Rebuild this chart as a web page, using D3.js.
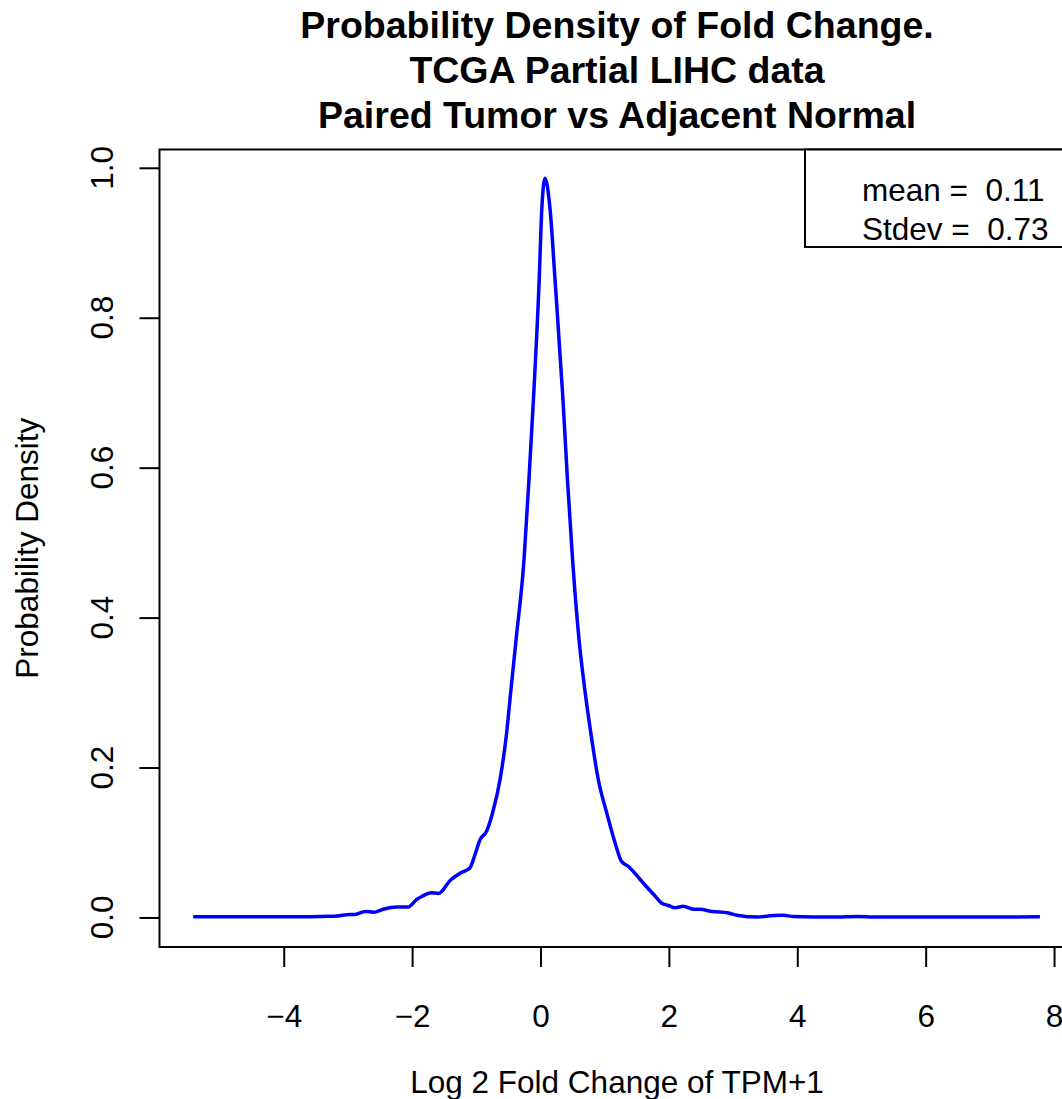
<!DOCTYPE html>
<html>
<head>
<meta charset="utf-8">
<script src="https://cdn.jsdelivr.net/npm/d3@7"></script>
<style>
  body { margin: 0; background: #fff; }
  svg { display: block; font-family: "Liberation Sans", Arial, sans-serif; }
</style>
</head>
<body>
<div id="chart"></div>
<script>
// density curve
var foldChange = [-5.41, -5.0, -4.5, -4.0, -3.6, -3.3, -3.17, -2.97, -2.89, -2.73, -2.60, -2.45, -2.24, -2.06,
  -1.93, -1.85, -1.70, -1.59, -1.40, -1.23, -1.10, -1.02, -0.94, -0.84, -0.745, -0.63, -0.54, -0.46,
  -0.38, -0.257, -0.18, -0.11, -0.02, 0.02, 0.07, 0.15, 0.226, 0.35, 0.42, 0.50, 0.60, 0.69, 0.80,
  0.90, 1.03, 1.16, 1.26, 1.37, 1.54, 1.62, 1.76, 1.89, 1.99, 2.10, 2.22, 2.38, 2.48, 2.67, 2.93,
  3.06, 3.39, 3.63, 3.78, 3.94, 4.56, 4.95, 5.18, 6.0, 7.0, 7.78];
var density = [0.001, 0.0008, 0.001, 0.0008, 0.001, 0.0015, 0.002, 0.004, 0.004, 0.008, 0.007, 0.011, 0.014, 0.014,
  0.024, 0.028, 0.033, 0.032, 0.050, 0.060, 0.066, 0.084, 0.104, 0.115, 0.140, 0.184, 0.237, 0.304,
  0.371, 0.477, 0.584, 0.691, 0.851, 0.944, 0.986, 0.944, 0.851, 0.691, 0.584, 0.477, 0.371, 0.304, 0.237,
  0.184, 0.140, 0.100, 0.075, 0.068, 0.052, 0.044, 0.031, 0.019, 0.016, 0.013, 0.015, 0.011, 0.011, 0.008, 0.006,
  0.003, 0.0005, 0.0027, 0.003, 0.0013, 0.0005, 0.0013, 0.0005, 0.0005, 0.0005, 0.001];

var xTicks = [-4, -2, 0, 2, 4, 6, 8];
var yTicks = [0, 0.2, 0.4, 0.6, 0.8, 1.0];
var titleLines = ["Probability Density of Fold Change.", "TCGA Partial LIHC data", "Paired Tumor vs Adjacent Normal"];
var legendLines = ["mean =  0.11", "Stdev =  0.73"];

var points = foldChange.map(function(d, i) { return {x: d, y: density[i]}; });

var W = 1062, H = 1099;
// plot region edges (the right edge runs past the picture, as in the reference)
var pLeft = 159.5, pRight = 1074.6, pTop = 149.5, pBottom = 947;

var svg = d3.select("#chart").append("svg")
    .attr("width", W)
    .attr("height", H);

var x = d3.scaleLinear().domain([-5.935, 8.32]).range([pLeft, pRight]);
var y = d3.scaleLinear().domain([-0.0394, 1.0244]).range([pBottom, pTop]);

var minus = function(v) { return String(v).replace("-", "\u2212"); };

// plot box
svg.append("rect")
    .attr("x", pLeft).attr("y", pTop)
    .attr("width", pRight - pLeft).attr("height", pBottom - pTop)
    .attr("fill", "none").attr("stroke", "#000").attr("stroke-width", 2);

// x axis
var xAxis = svg.append("g")
    .attr("transform", "translate(0," + pBottom + ")")
    .call(d3.axisBottom(x).tickValues(xTicks).tickSize(20).tickPadding(38).tickFormat(minus));
xAxis.select(".domain").remove();
xAxis.selectAll("line").attr("stroke-width", 2);
xAxis.selectAll("text").attr("font-size", 31.5).attr("font-family", "Liberation Sans, Arial, sans-serif");

// y axis (R style rotated labels)
var yAxis = svg.append("g")
    .attr("transform", "translate(" + pLeft + ",0)")
    .call(d3.axisLeft(y).tickValues(yTicks).tickSize(20));
yAxis.select(".domain").remove();
yAxis.selectAll("line").attr("stroke-width", 2);
yAxis.selectAll("text").remove();
svg.append("g").selectAll("text")
    .data(yTicks)
    .enter()
    .append("text")
    .attr("transform", function(d) { return "translate(113," + y(d) + ") rotate(-90)"; })
    .attr("text-anchor", "middle")
    .attr("font-size", 31.5)
    .text(function(d) { return d3.format(".1f")(d); });

// curve
var line = d3.line()
    .x(function(d) { return x(d.x); })
    .y(function(d) { return y(d.y); })
    .curve(d3.curveMonotoneX);

svg.append("path")
    .datum(points)
    .attr("d", line)
    .attr("fill", "none")
    .attr("stroke", "#0000ff")
    .attr("stroke-width", 3.5)
    .attr("stroke-linejoin", "round");

// titles
svg.selectAll(".title")
    .data(titleLines)
    .enter()
    .append("text")
    .attr("class", "title")
    .attr("x", (pLeft + pRight) / 2)
    .attr("y", function(d, i) { return 38 + i * 45; })
    .attr("text-anchor", "middle")
    .attr("font-weight", "bold")
    .attr("font-size", 37.5)
    .text(function(d) { return d; });

svg.append("text")
    .attr("x", (pLeft + pRight) / 2)
    .attr("y", 1093)
    .attr("text-anchor", "middle")
    .attr("font-size", 31.5)
    .text("Log 2 Fold Change of TPM+1");

svg.append("text")
    .attr("transform", "translate(38," + (pTop + pBottom) / 2 + ") rotate(-90)")
    .attr("text-anchor", "middle")
    .attr("font-size", 31.5)
    .text("Probability Density");

// legend
svg.append("rect")
    .attr("x", 805).attr("y", pTop)
    .attr("width", pRight - 805).attr("height", 247 - pTop)
    .attr("fill", "#fff").attr("stroke", "#000").attr("stroke-width", 2);
svg.selectAll(".legend")
    .data(legendLines)
    .enter()
    .append("text")
    .attr("class", "legend")
    .attr("x", 862)
    .attr("y", function(d, i) { return 201 + i * 39; })
    .attr("font-size", 31.5)
    .style("white-space", "pre")
    .text(function(d) { return d; });
</script>
</body>
</html>
